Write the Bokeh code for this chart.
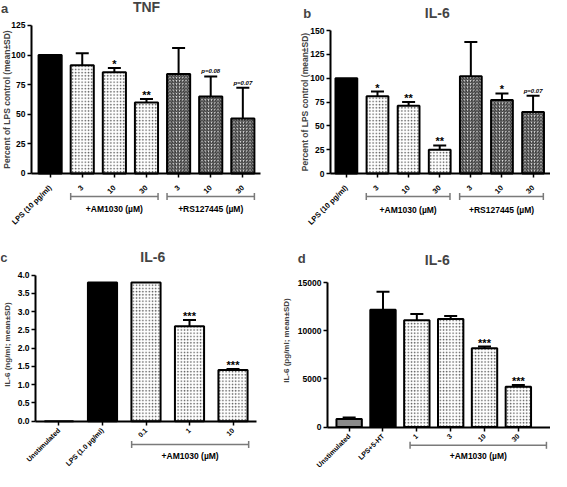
import math
from bokeh.plotting import figure
from bokeh.models import (LinearAxis, FixedTicker, Label, ColumnDataSource,
                          NumeralTickFormatter)
from bokeh.layouts import column, row
from bokeh.embed import file_html
from bokeh.resources import INLINE
from bokeh.core.properties import value

FONT = "Liberation Sans"

# ---------------- data ----------------
a_labels = ["LPS (10 pg/ml)", "3", "10", "30", "3", "10", "30"]
a_means = [100, 91.5, 85.5, 60, 84, 65, 46.5]
a_sd = [0, 10, 3.5, 3, 22, 17, 26]
a_groups = ["lps", "am", "am", "am", "rs", "rs", "rs"]
a_marks = ["", "", "*", "**", "", "p=0.08", "p=0.07"]
a_yticks = [0, 25, 50, 75, 100, 125]

b_labels = ["LPS (10 pg/ml)", "3", "10", "30", "3", "10", "30"]
b_means = [100, 81, 71, 25, 102, 77, 64.5]
b_sd = [0, 5, 4, 4.5, 36, 7, 17]
b_groups = ["lps", "am", "am", "am", "rs", "rs", "rs"]
b_marks = ["", "*", "**", "**", "", "*", "p=0.07"]
b_yticks = [0, 25, 50, 75, 100, 125, 150]

ab_brackets = [("+AM1030 (\u00b5M)", 1, 3), ("+RS127445 (\u00b5M)", 4, 6)]

c_labels = ["Unstimulated", "LPS (1.0 \u00b5g/ml)", "0.1", "1", "10"]
c_means = [0, 3.8, 3.8, 2.6, 1.4]
c_sd = [0, 0, 0, 0.17, 0.03]
c_groups = ["unstim", "lps", "am", "am", "am"]
c_marks = ["", "", "", "***", "***"]
c_yticks = [0, 0.5, 1.0, 1.5, 2.0, 2.5, 3.0, 3.5, 4.0]
c_brackets = [("+AM1030 (\u00b5M)", 2, 4)]

d_labels = ["Unstimulated", "LPS+5-HT", "1", "3", "10", "30"]
d_means = [830, 12200, 11100, 11230, 8200, 4200]
d_sd = [170, 1870, 670, 330, 170, 170]
d_groups = ["unstim", "lps", "am", "am", "am", "am"]
d_marks = ["", "", "", "", "***", "***"]
d_yticks = [0, 5000, 10000, 15000]
d_brackets = [("+AM1030 (\u00b5M)", 2, 5)]

W, H = 275, 235


def make_panel(letter, title, ylabel, labels, means, sds, groups, marks,
               yticks, brackets, L):
    xs, xe = L["xr"]
    ys, ye = L["yr"]
    bl, br, bt = L["bl"], L["br"], L["bt"]
    pux = (W - bl - br) / (xe - xs)
    puy = (H - bt) / (ye - ys)

    def px2x(fx):
        return xs + (fx - bl) / pux

    def px2y(fy):
        return ye - (fy - bt) / puy

    # the frame covers the whole figure; axes are placed inside it
    p = figure(width=W, height=H, x_range=(px2x(0), px2x(W)),
               y_range=(px2y(H), px2y(0)),
               x_axis_type=None, y_axis_type=None, output_backend="svg",
               toolbar_location=None, min_border=0)
    p.outline_line_color = None
    p.background_fill_color = "white"

    # y axis
    ya = LinearAxis(ticker=FixedTicker(ticks=yticks), fixed_location=xs,
                    bounds=(yticks[0], yticks[-1]))
    ya.formatter = NumeralTickFormatter(format=L["yfmt"])
    ya.axis_line_width = 2
    ya.major_tick_line_width = 1.5
    ya.major_tick_out = 4
    ya.major_tick_in = 0
    ya.minor_tick_out = 0
    ya.minor_tick_in = 0
    ya.major_label_standoff = 2
    ya.major_label_text_font = FONT
    ya.major_label_text_font_style = "bold"
    ya.major_label_text_font_size = "8.5px"
    ya.major_label_text_color = "black"
    p.add_layout(ya, "left")

    # x axis at y = 0
    n = len(labels)
    xa = LinearAxis(ticker=FixedTicker(ticks=list(range(n))), fixed_location=0,
                    bounds=(xs, xe))
    xa.major_label_overrides = {i: lab for i, lab in enumerate(labels)}
    xa.major_label_orientation = math.pi / 4
    xa.axis_line_width = 2
    xa.major_tick_line_width = 1.5
    xa.major_tick_out = 4
    xa.major_tick_in = 0
    xa.minor_tick_out = 0
    xa.minor_tick_in = 0
    xa.major_label_standoff = L["xstand"]
    xa.major_label_text_font = FONT
    xa.major_label_text_font_style = "bold"
    xa.major_label_text_font_size = L["xfs"]
    xa.major_label_text_color = "black"
    p.add_layout(xa, "below")

    bw = L["bw"]
    styles = {
        "lps": dict(fill_color="black"),
        "unstim": dict(fill_color="#8a8a8a"),
        "am": dict(fill_color="white", hatch_pattern="dot", hatch_color="#555555",
                   hatch_scale=3.2, hatch_weight=0.9),
        "rs": dict(fill_color="#e8e8e8", hatch_pattern="right_diagonal_line",
                   hatch_color="#2a2a2a", hatch_scale=3.2, hatch_weight=1.1),
    }
    for g, st in styles.items():
        idx = [i for i in range(n) if groups[i] == g]
        if not idx:
            continue
        src = ColumnDataSource(dict(x=idx, top=[means[i] for i in idx]))
        p.vbar(x="x", top="top", bottom=0, width=bw, source=src,
               line_color="black", line_width=2, **st)

    # error bars (upper whiskers)
    cap = 6.5 / pux
    ei = [i for i in range(n) if sds[i] > 0]
    esrc = ColumnDataSource(dict(
        x=ei, y0=[means[i] for i in ei], y1=[means[i] + sds[i] for i in ei],
        xl=[i - cap for i in ei], xr=[i + cap for i in ei]))
    p.segment(x0="x", y0="y0", x1="x", y1="y1", source=esrc,
              line_color="black", line_width=2)
    p.segment(x0="xl", y0="y1", x1="xr", y1="y1", source=esrc,
              line_color="black", line_width=2)

    # significance marks
    si = [i for i in range(n) if marks[i].startswith("*")]
    pi_ = [i for i in range(n) if marks[i].startswith("p")]
    if si:
        p.text(x=si, y=[means[i] + sds[i] for i in si], text=[marks[i] for i in si],
               text_font=value(FONT), text_font_style="bold", text_font_size="11px",
               text_align="center", text_baseline="alphabetic", y_offset=-4)
    if pi_:
        p.text(x=pi_, y=[means[i] + sds[i] for i in pi_], text=[marks[i] for i in pi_],
               text_font=value(FONT), text_font_style="bold italic",
               text_font_size="6px", text_align="center",
               text_baseline="alphabetic", y_offset=-5)

    # group brackets
    by, ly = L["by"], L["ly"]
    tk = 3.5 / puy
    for (lab, i0, i1) in brackets:
        x0 = i0 - L["bpad"][0]
        x1 = i1 + L["bpad"][1]
        p.segment(x0=[x0, x0, x1], y0=[by, by - tk, by - tk],
                  x1=[x1, x0, x1], y1=[by, by + tk, by + tk],
                  line_color="#7a7a7a", line_width=1.5)
        p.text(x=[(x0 + x1) / 2], y=[ly], text=[lab], text_font=value(FONT),
               text_font_style="bold", text_font_size="8.5px",
               text_align="center", text_baseline="middle")

    # titles, panel letter, y label
    p.add_layout(Label(x=px2x(L["title_xy"][0]), y=px2y(L["title_xy"][1]), text=title,
                       text_font=FONT, text_font_style="bold", text_font_size="14px",
                       text_align="center", text_baseline="middle"))
    p.add_layout(Label(x=px2x(L["letter_xy"][0]), y=px2y(L["letter_xy"][1]), text=letter,
                       text_font=FONT, text_font_style="bold", text_font_size="13px",
                       text_align="center", text_baseline="middle"))
    p.add_layout(Label(x=px2x(L["ylab_x"]), y=L["ylab_y"], text=ylabel,
                       angle=math.pi / 2, text_font=FONT, text_font_style="bold",
                       text_font_size=L["yls"], text_align="center",
                       text_baseline="middle"))
    return p


LA = dict(bl=31, br=15, bt=20, xr=(-0.58, 6.55), yr=(-52.4, 129.2), bw=0.72,
          by=-19.4, ly=-30.4, bpad=(0.36, 0.36), yfmt="0", xstand=9, xfs="7.5px",
          yls="8.5px", title_xy=(146, 6.3), letter_xy=(4, 8), ylab_x=6, ylab_y=62.5)
LB = dict(bl=55, br=0, bt=20, xr=(-0.51, 6.56), yr=(-65, 160.5), bw=0.7,
          by=-24, ly=-37.8, bpad=(0.36, 0.33), yfmt="0", xstand=9, xfs="7.5px",
          yls="8.5px", title_xy=(161.8, 12.6), letter_xy=(31.6, 12.6), ylab_x=29,
          ylab_y=75)
LC = dict(bl=35, br=19, bt=32, xr=(-0.54, 4.54), yr=(-1.35, 4.21), bw=0.67,
          by=-0.636, ly=-0.95, bpad=(0.33, 0.36), yfmt="0.0", xstand=4, xfs="7px",
          yls="8px", title_xy=(152.3, 21.3), letter_xy=(3.4, 22.2), ylab_x=7,
          ylab_y=2.1)
LD = dict(bl=52, br=0, bt=32, xr=(-0.64, 5.95), yr=(-4528, 16603), bw=0.75,
          by=-1905, ly=-3070, bpad=(0.2, 0.83), yfmt="0", xstand=4, xfs="7px",
          yls="8px", title_xy=(161.8, 24.2), letter_xy=(26.2, 23.2), ylab_x=10.7,
          ylab_y=9000)

pa = make_panel("a", "TNF", "Percent of LPS control (mean\u00b1SD)", a_labels, a_means,
                a_sd, a_groups, a_marks, a_yticks, ab_brackets, LA)
pb = make_panel("b", "IL-6", "Percent of LPS control (mean\u00b1SD)", b_labels, b_means,
                b_sd, b_groups, b_marks, b_yticks, ab_brackets, LB)
pc = make_panel("c", "IL-6", "IL-6 (ng/ml; mean\u00b1SD)", c_labels, c_means,
                c_sd, c_groups, c_marks, c_yticks, c_brackets, LC)
pd = make_panel("d", "IL-6", "IL-6 (pg/ml; mean\u00b1SD)", d_labels, d_means,
                d_sd, d_groups, d_marks, d_yticks, d_brackets, LD)

layout = column(row(pa, pb), row(pc, pd))
open("out.html", "w").write(file_html(layout, INLINE))
